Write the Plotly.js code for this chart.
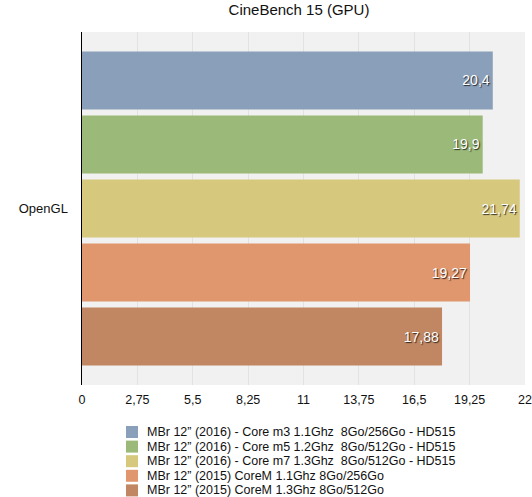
<!DOCTYPE html>
<html>
<head>
<meta charset="utf-8">
<script src="https://cdn.plot.ly/plotly-3.0.1.min.js"></script>
<style>html,body{margin:0;padding:0;background:#fff}#chart{width:532px;height:497px}</style>
</head>
<body>
<div id="chart"></div>
<script>
const categories = ["OpenGL"];
const seriesNames = [
  "MBr 12\u201d (2016) - Core m3 1.1Ghz  8Go/256Go - HD515",
  "MBr 12\u201d (2016) - Core m5 1.2Ghz  8Go/512Go - HD515",
  "MBr 12\u201d (2016) - Core m7 1.3Ghz  8Go/512Go - HD515",
  "MBr 12\u201d (2015) CoreM 1.1Ghz 8Go/256Go",
  "MBr 12\u201d (2015) CoreM 1.3Ghz 8Go/512Go"
];
const seriesValues = [20.4, 19.9, 21.74, 19.27, 17.88];
const seriesColors = ["#8a9fba", "#9bb979", "#d6c87d", "#e0976e", "#c08762"];
const tickValues = [0, 2.75, 5.5, 8.25, 11, 13.75, 16.5, 19.25, 22];

const W = 532, H = 497;
const M = {l: 82, r: 7, t: 32, b: 112};
const plotH = H - M.t - M.b;
const plotW = W - M.l - M.r;
const FONT = "Liberation Sans, Arial, Helvetica, sans-serif";

const traces = seriesNames.map((name, i) => ({
  type: "bar",
  orientation: "h",
  name: name,
  y: categories,
  x: [seriesValues[i]],
  text: [String(seriesValues[i]).replace(".", ",")],
  textposition: "inside",
  insidetextanchor: "end",
  textfont: {color: "#ffffff", size: 14, family: FONT, shadow: "1px 1px 1px rgba(0,0,0,0.75)"},
  marker: {color: seriesColors[i], line: {width: 0}},
  hoverinfo: "none",
  showlegend: false
}));

// custom compact legend below the plot
const legTop = 432, legStep = 14.6;
const shapes = [], annotations = [];
seriesNames.forEach((name, i) => {
  const cy = legTop + i * legStep;
  const toPY = px => (H - M.b - px) / plotH;
  const toPX = px => (px - M.l) / plotW;
  shapes.push({type: "rect", xref: "paper", yref: "paper",
    x0: toPX(126), x1: toPX(138), y0: toPY(cy + 6), y1: toPY(cy - 6),
    fillcolor: seriesColors[i], line: {width: 0}});
  annotations.push({xref: "paper", yref: "paper", x: toPX(145), y: toPY(cy),
    xanchor: "left", yanchor: "middle", showarrow: false, text: name,
    font: {family: FONT, size: 12.5, color: "#111"}});
});

const layout = {
  width: W, height: H,
  margin: M,
  paper_bgcolor: "#ffffff",
  plot_bgcolor: "#f1f1f1",
  separators: ", ",
  showlegend: false,
  barmode: "group",
  bargap: 0.093,
  bargroupgap: 0.094,
  font: {family: FONT, size: 12, color: "#111"},
  title: {text: "CineBench 15 (GPU)", font: {family: FONT, size: 15, color: "#111"},
    x: 299 / W, xref: "container", xanchor: "center", y: 1 - 10 / H, yref: "container", yanchor: "middle"},
  xaxis: {range: [0, 22], tickvals: tickValues, showgrid: true, gridcolor: "#e2e2e2", gridwidth: 1,
    zeroline: false, showline: false, ticks: "", ticklabelstandoff: 5,
    tickfont: {size: 12.5, color: "#111"}, fixedrange: true},
  yaxis: {autorange: "reversed", showline: true, linecolor: "#000", linewidth: 1.5, ticks: "",
    showgrid: false, tickfont: {size: 13, color: "#111"}, ticklabelstandoff: 10, fixedrange: true},
  shapes: shapes,
  annotations: annotations
};

Plotly.newPlot("chart", traces, layout, {displayModeBar: false, staticPlot: true});
</script>
</body>
</html>
